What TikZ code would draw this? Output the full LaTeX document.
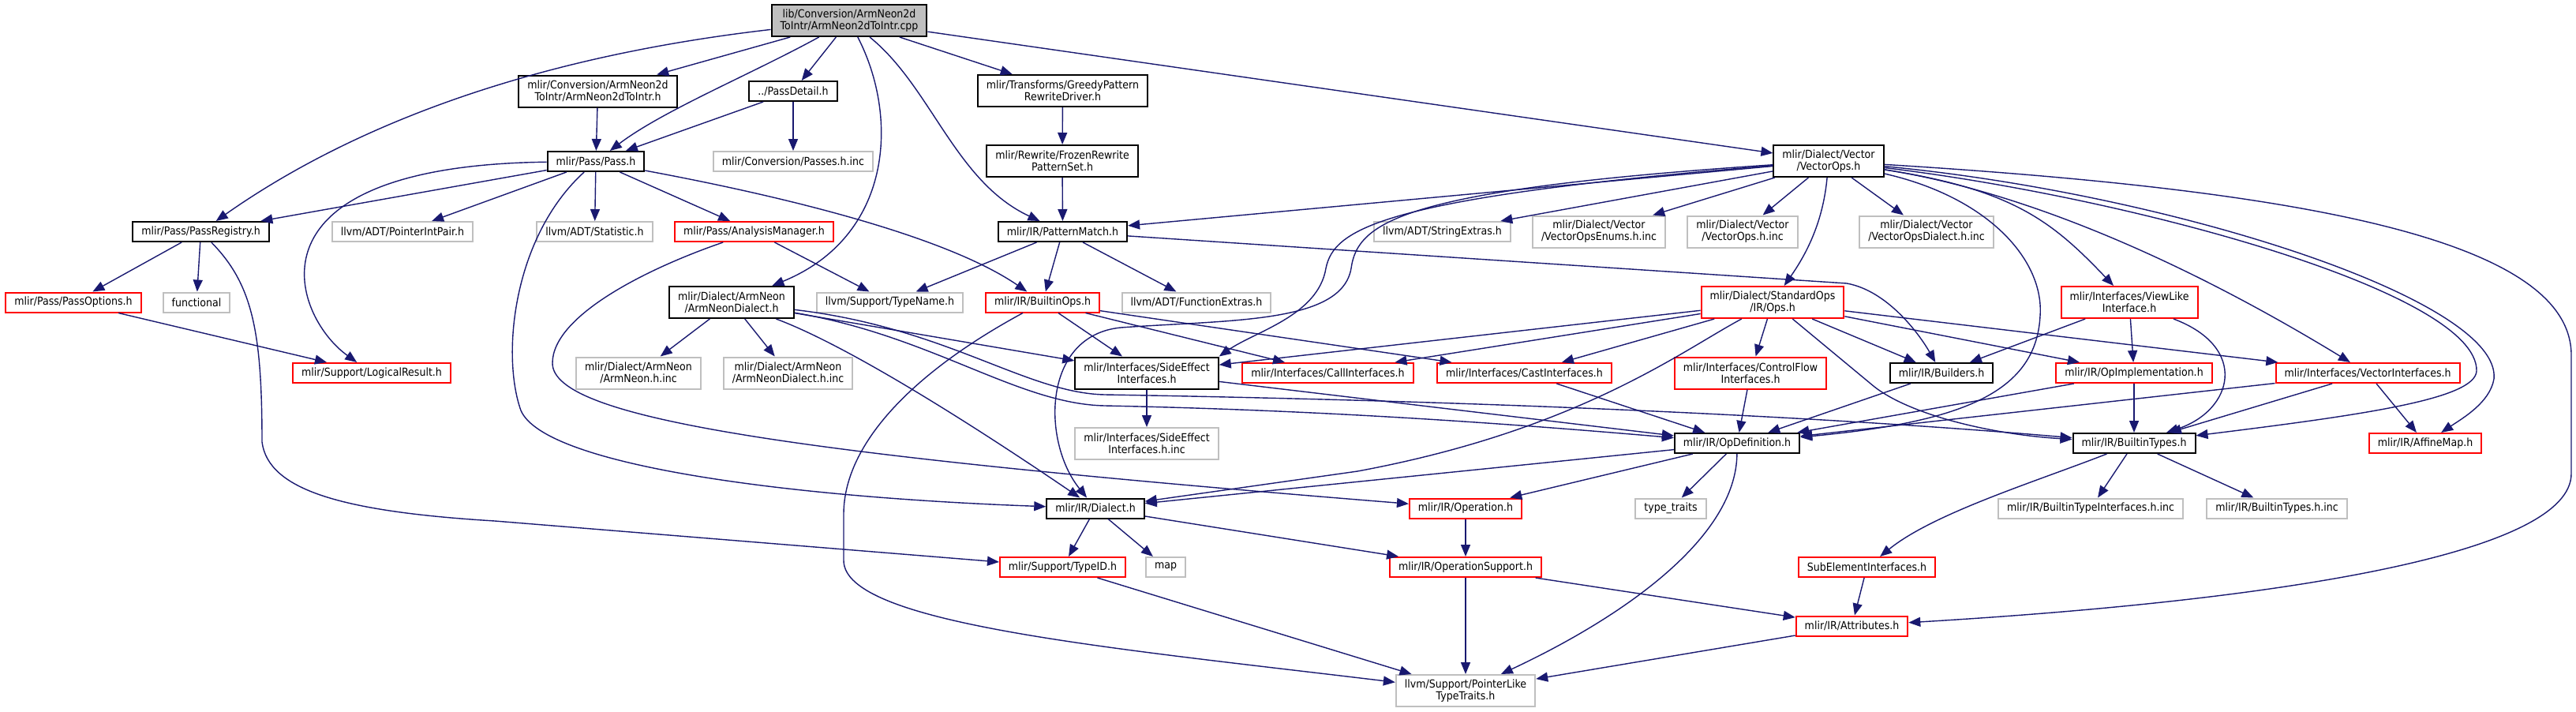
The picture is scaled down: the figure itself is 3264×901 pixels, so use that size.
\documentclass[tikz,border=0pt]{standalone}
\usepackage{fontspec}
\setmainfont{DejaVu Sans}[FakeStretch=0.9]
\usepackage{xcolor}
\usepackage{tikz}
\usetikzlibrary{arrows.meta}
\definecolor{edgeblue}{HTML}{191970}
\definecolor{sysgray}{HTML}{BFBFBF}
\definecolor{cutred}{HTML}{FF0000}

\begin{document}
\begin{tikzpicture}[x=0.5pt, y=-0.5pt,
    hdr/.style={draw=black, fill=white, line width=1pt, inner xsep=5.5pt, inner ysep=1pt,
      minimum height=12.5pt, align=center, font=\fontsize{7}{7.5}\selectfont},
    tall/.style={minimum height=20pt},
    sys/.style={hdr, draw=sysgray},
    cut/.style={hdr, draw=cutred},
    src/.style={hdr, fill=sysgray},
    incl/.style={draw=edgeblue, line width=0.7pt, -{Triangle[length=7.5pt, width=6pt]}}]
  \useasboundingbox (0,0) rectangle (3264,901);

  % rank 0 and 1
  \node[src, tall] (main) at (1076,26) {lib/Conversion/ArmNeon2d\\ToIntr/ArmNeon2dToIntr.cpp};
  \node[hdr, tall] (convh) at (757.5,115.5) {mlir/Conversion/ArmNeon2d\\ToIntr/ArmNeon2dToIntr.h};
  \node[hdr] (passdetail) at (1005,115.5) {../PassDetail.h};
  \node[hdr, tall] (greedy) at (1346.5,115) {mlir/Transforms/GreedyPattern\\RewriteDriver.h};

  % rank 2
  \node[hdr] (pass) at (755,204.5) {mlir/Pass/Pass.h};
  \node[sys] (passesinc) at (1005,204.5) {mlir/Conversion/Passes.h.inc};
  \node[hdr, tall] (frozen) at (1346,204) {mlir/Rewrite/FrozenRewrite\\PatternSet.h};
  \node[hdr, tall] (vectorops) at (2317,204) {mlir/Dialect/Vector\\/VectorOps.h};

  % rank 3
  \node[hdr] (passregistry) at (254.5,293.5) {mlir/Pass/PassRegistry.h};
  \node[sys] (pointerintpair) at (510,293.5) {llvm/ADT/PointerIntPair.h};
  \node[sys] (statistic) at (753.5,293.5) {llvm/ADT/Statistic.h};
  \node[cut] (analysismgr) at (955.5,293.5) {mlir/Pass/AnalysisManager.h};
  \node[hdr] (patternmatch) at (1346.5,293.5) {mlir/IR/PatternMatch.h};
  \node[sys] (stringextras) at (1827.5,293.5) {llvm/ADT/StringExtras.h};
  \node[sys, tall] (vecenums) at (2026,293.5) {mlir/Dialect/Vector\\/VectorOpsEnums.h.inc};
  \node[sys, tall] (vecopsinc) at (2208,293.5) {mlir/Dialect/Vector\\/VectorOps.h.inc};
  \node[sys, tall] (vecdialectinc) at (2441,293.5) {mlir/Dialect/Vector\\/VectorOpsDialect.h.inc};

  % rank 4
  \node[cut] (passoptions) at (93,383) {mlir/Pass/PassOptions.h};
  \node[sys] (functional) at (249,383) {functional};
  \node[hdr, tall] (armneondialect) at (927,383) {mlir/Dialect/ArmNeon\\/ArmNeonDialect.h};
  \node[sys] (typename) at (1127.5,383) {llvm/Support/TypeName.h};
  \node[cut] (builtinops) at (1321,383) {mlir/IR/BuiltinOps.h};
  \node[sys] (functionextras) at (1516,383) {llvm/ADT/FunctionExtras.h};
  \node[cut, tall] (stdops) at (2246,383) {mlir/Dialect/StandardOps\\/IR/Ops.h};
  \node[cut, tall] (viewlike) at (2698,383) {mlir/Interfaces/ViewLike\\Interface.h};

  % rank 5
  \node[cut] (logicalresult) at (471,472.5) {mlir/Support/LogicalResult.h};
  \node[sys, tall] (armneoninc) at (809,472.5) {mlir/Dialect/ArmNeon\\/ArmNeon.h.inc};
  \node[sys, tall] (armneondialectinc) at (998.5,472.5) {mlir/Dialect/ArmNeon\\/ArmNeonDialect.h.inc};
  \node[hdr, tall] (sideeffect) at (1453,472.5) {mlir/Interfaces/SideEffect\\Interfaces.h};
  \node[cut] (callif) at (1682.5,472.5) {mlir/Interfaces/CallInterfaces.h};
  \node[cut] (castif) at (1931.5,472.5) {mlir/Interfaces/CastInterfaces.h};
  \node[cut, tall] (controlflow) at (2218,472.5) {mlir/Interfaces/ControlFlow\\Interfaces.h};
  \node[hdr] (builders) at (2460,472.5) {mlir/IR/Builders.h};
  \node[cut] (opimpl) at (2704,472.5) {mlir/IR/OpImplementation.h};
  \node[cut] (vectorif) at (3000,472.5) {mlir/Interfaces/VectorInterfaces.h};

  % rank 6
  \node[sys, tall] (sideeffectinc) at (1453,562) {mlir/Interfaces/SideEffect\\Interfaces.h.inc};
  \node[hdr] (opdef) at (2201,561.5) {mlir/IR/OpDefinition.h};
  \node[hdr] (builtintypes) at (2704,561.5) {mlir/IR/BuiltinTypes.h};
  \node[cut] (affinemap) at (3073,561.5) {mlir/IR/AffineMap.h};

  % rank 7 and below
  \node[hdr] (dialect) at (1388,644) {mlir/IR/Dialect.h};
  \node[cut] (operation) at (1857,644) {mlir/IR/Operation.h};
  \node[sys] (typetraits) at (2117,644) {type\_traits};
  \node[sys] (builtintypeifinc) at (2649,644) {mlir/IR/BuiltinTypeInterfaces.h.inc};
  \node[sys] (builtintypesinc) at (2885,644) {mlir/IR/BuiltinTypes.h.inc};
  \node[cut] (typeid) at (1346.5,718.5) {mlir/Support/TypeID.h};
  \node[sys] (map) at (1477,718.5) {map};
  \node[cut] (opsupport) at (1857,718.5) {mlir/IR/OperationSupport.h};
  \node[cut] (subelement) at (2365.5,718.5) {SubElementInterfaces.h};
  \node[cut] (attributes) at (2346.5,793) {mlir/IR/Attributes.h};
  \node[sys, tall] (pointerlike) at (1857,875) {llvm/Support/PointerLike\\TypeTraits.h};

  % includes of the source file
  \draw[incl] (main) .. controls (650,75) and (430,170) .. (passregistry);
  \draw[incl] (main) -- (convh);
  \draw[incl] (main) .. controls (950,95) and (840,140) .. (pass);
  \draw[incl] (main) -- (passdetail);
  \draw[incl] (main) .. controls (1140,150) and (1130,300) .. (armneondialect);
  \draw[incl] (main) .. controls (1180,110) and (1210,230) .. (patternmatch);
  \draw[incl] (main) -- (greedy);
  \draw[incl] (main) -- (vectorops);

  \draw[incl] (convh) -- (pass);
  \draw[incl] (passdetail) -- (pass);
  \draw[incl] (passdetail) -- (passesinc);
  \draw[incl] (greedy) -- (frozen);
  \draw[incl] (frozen) -- (patternmatch);

  % Pass.h
  \draw[incl] (pass) -- (passregistry);
  \draw[incl] (pass) .. controls (300,210) and (370,400) .. (logicalresult);
  \draw[incl] (pass) -- (pointerintpair);
  \draw[incl] (pass) -- (statistic);
  \draw[incl] (pass) .. controls (650,300) and (635,450) .. (660,520)
    .. controls (690,590) and (1000,630) .. (dialect);
  \draw[incl] (pass) -- (analysismgr);
  \draw[incl] (pass) .. controls (1000,250) and (1200,300) .. (builtinops);

  \draw[incl] (passregistry) -- (passoptions);
  \draw[incl] (passregistry) -- (functional);
  \draw[incl] (passregistry) .. controls (320,360) and (332,420) .. (332,560)
    .. controls (340,620) and (430,648) .. (627,660) -- (typeid);
  \draw[incl] (passoptions) -- (logicalresult);

  \draw[incl] (analysismgr) -- (typename);
  \draw[incl] (analysismgr) .. controls (820,340) and (700,400) .. (700,460)
    .. controls (700,530) and (1000,575) .. (operation);

  \draw[incl] (patternmatch) -- (typename);
  \draw[incl] (patternmatch) -- (builtinops);
  \draw[incl] (patternmatch) -- (functionextras);
  \draw[incl] (patternmatch) -- (2340,359) .. controls (2390,368) and (2430,420) .. (builders);

  % VectorOps.h
  \draw[incl] (vectorops) -- (patternmatch);
  \draw[incl] (vectorops) .. controls (1750,250) and (1690,290) .. (1680,340)
    .. controls (1670,400) and (1590,420) .. (sideeffect.north east);
  \draw[incl] (vectorops) .. controls (1780,240) and (1720,280) .. (1712,340)
    .. controls (1700,410) and (1560,405) .. (1420,415)
    .. controls (1320,425) and (1320,560) .. (dialect);
  \draw[incl] (vectorops) -- (stringextras);
  \draw[incl] (vectorops) -- (vecenums);
  \draw[incl] (vectorops) -- (vecopsinc);
  \draw[incl] (vectorops) -- (vecdialectinc);
  \draw[incl] (vectorops) .. controls (2310,280) and (2290,320) .. (stdops);
  \draw[incl] (vectorops) .. controls (2550,240) and (2600,280) .. (viewlike);
  \draw[incl] (vectorops) .. controls (2550,240) and (2750,320) .. (vectorif);
  \draw[incl] (vectorops) .. controls (2520,250) and (2590,330) .. (2585,400)
    .. controls (2580,500) and (2480,535) .. (opdef);
  \draw[incl] (vectorops) .. controls (2700,250) and (3140,370) .. (3138,470)
    .. controls (3136,505) and (3000,525) .. (builtintypes);
  \draw[incl] (vectorops) .. controls (2750,245) and (3170,380) .. (3160,480)
    .. controls (3155,510) and (3120,530) .. (affinemap);
  \draw[incl] (vectorops) .. controls (2900,240) and (3258,300) .. (3258,450) -- (3258,600)
    .. controls (3258,700) and (2900,760) .. (attributes);

  % ArmNeonDialect.h and BuiltinOps.h
  \draw[incl] (armneondialect) -- (armneoninc);
  \draw[incl] (armneondialect) -- (armneondialectinc);
  \draw[incl] (armneondialect) .. controls (1080,440) and (1250,550) .. (dialect);
  \draw[incl] (armneondialect) -- (sideeffect);
  \draw[incl] (armneondialect) .. controls (1180,425) and (1290,512) .. (1400,514)
    .. controls (1700,520) and (1950,540) .. (opdef);
  \draw[incl] (armneondialect) .. controls (1200,415) and (1300,498) .. (1400,500)
    .. controls (2000,510) and (2400,535) .. (builtintypes);

  \draw[incl] (builtinops) -- (sideeffect);
  \draw[incl] (builtinops) -- (callif);
  \draw[incl] (builtinops) -- (castif);
  \draw[incl] (builtinops) .. controls (1160,470) and (1070,560) .. (1069,650) -- (1069,710)
    .. controls (1069,790) and (1400,820) .. (pointerlike);

  \draw[incl] (sideeffect) -- (sideeffectinc);
  \draw[incl] (sideeffect) -- (opdef);

  % StandardOps
  \draw[incl] (stdops) -- (callif);
  \draw[incl] (stdops) -- (castif);
  \draw[incl] (stdops) -- (sideeffect);
  \draw[incl] (stdops) .. controls (2130,445) and (2000,545) .. (1720,597) -- (dialect);
  \draw[incl] (stdops) -- (controlflow);
  \draw[incl] (stdops) -- (2375,490) .. controls (2420,525) and (2520,550) .. (builtintypes);
  \draw[incl] (stdops) -- (builders);
  \draw[incl] (stdops) -- (opimpl);
  \draw[incl] (stdops) -- (vectorif);

  \draw[incl] (castif) -- (opdef);
  \draw[incl] (controlflow) -- (opdef);
  \draw[incl] (builders) -- (opdef);
  \draw[incl] (opimpl) -- (opdef);
  \draw[incl] (opimpl) -- (builtintypes);
  \draw[incl] (viewlike) -- (builders);
  \draw[incl] (viewlike) -- (opimpl);
  \draw[incl] (viewlike) .. controls (2850,440) and (2830,520) .. (builtintypes);
  \draw[incl] (vectorif) -- (opdef);
  \draw[incl] (vectorif) -- (builtintypes);
  \draw[incl] (vectorif) -- (affinemap);

  % lower part
  \draw[incl] (opdef) -- (dialect);
  \draw[incl] (opdef) -- (operation);
  \draw[incl] (opdef) -- (typetraits);
  \draw[incl] (opdef) .. controls (2200,680) and (2060,780) .. (pointerlike);
  \draw[incl] (dialect) -- (typeid);
  \draw[incl] (dialect) -- (map);
  \draw[incl] (dialect) -- (opsupport);
  \draw[incl] (operation) -- (opsupport);
  \draw[incl] (opsupport) -- (pointerlike);
  \draw[incl] (opsupport) -- (attributes);
  \draw[incl] (typeid) -- (pointerlike);
  \draw[incl] (attributes) -- (pointerlike);
  \draw[incl] (subelement) -- (attributes);
  \draw[incl] (builtintypes) .. controls (2580,610) and (2450,650) .. (subelement);
  \draw[incl] (builtintypes) -- (builtintypeifinc);
  \draw[incl] (builtintypes) -- (builtintypesinc);
\end{tikzpicture}
\end{document}
